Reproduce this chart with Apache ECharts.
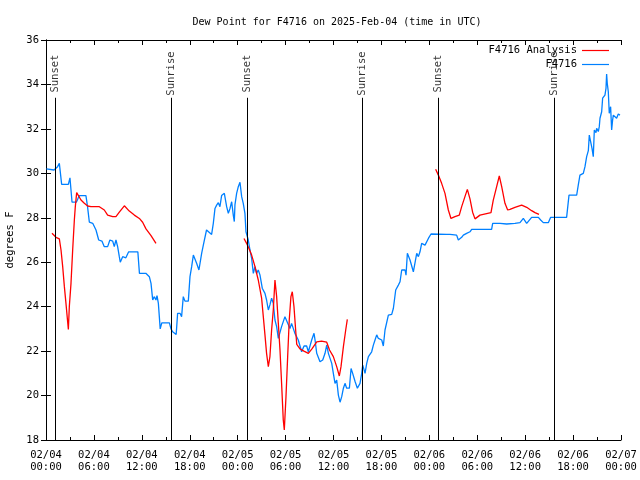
<!DOCTYPE html>
<html><head><meta charset="utf-8">
<script src="https://cdn.jsdelivr.net/npm/echarts@6/dist/echarts.min.js"></script>
<style>html,body{margin:0;padding:0;background:#fff}#c{width:640px;height:480px}</style>
</head><body><div id="c"></div><script>
// hours since 2025-02-04 00:00 UTC
const stationHours = [0.05,0.2,1.0,1.45,1.67,1.96,2.8,3.0,3.26,3.8,4.17,5.0,5.2,5.43,5.85,6.26,6.6,7.0,7.3,7.72,8.0,8.35,8.55,8.76,8.97,9.18,9.3,9.6,10.0,10.35,11.5,11.7,12.5,12.94,13.15,13.36,13.57,13.77,13.9,14.07,14.19,14.3,14.5,15.45,15.65,15.86,16.3,16.48,16.78,16.98,17.19,17.4,17.82,18.03,18.24,18.45,18.65,18.86,19.15,19.49,19.7,20.1,20.32,20.74,20.95,21.16,21.37,21.58,21.78,21.99,22.33,22.62,22.83,23.04,23.25,23.45,23.58,23.66,23.87,24.08,24.29,24.5,24.7,24.91,25.04,25.12,25.33,25.54,25.75,25.96,26.17,26.37,26.58,26.79,27.08,27.42,27.62,27.84,28.04,28.25,28.46,28.67,28.88,29.09,29.5,29.92,30.13,30.55,30.75,31.17,31.59,32.01,32.31,32.64,32.85,33.27,33.56,33.69,33.9,34.31,34.65,34.94,35.15,35.36,35.78,35.98,36.19,36.4,36.61,36.82,37.03,37.24,37.44,37.65,37.99,38.2,38.4,38.7,38.99,39.32,39.53,39.66,39.82,39.95,40.16,40.37,40.57,40.78,40.99,41.2,41.41,41.62,42.04,42.24,42.45,42.66,42.87,43.29,43.5,43.79,44.12,44.33,44.54,44.96,45.08,45.25,45.58,46.0,46.21,46.42,46.63,46.83,47.04,47.46,47.88,48.21,50.17,50.59,51.42,51.63,51.84,52.05,52.26,52.67,53.09,53.3,55.8,55.93,56.85,57.68,58.72,59.35,59.56,59.77,60.19,60.4,60.81,61.65,61.94,62.27,62.9,63.19,65.19,65.49,66.45,66.65,66.86,67.28,67.49,67.7,67.91,68.03,68.2,68.37,68.53,68.66,68.87,68.95,69.16,69.28,69.37,69.58,69.7,69.87,69.99,70.12,70.2,70.28,70.41,70.53,70.7,70.83,70.95,71.04,71.25,71.45,71.66,71.87];
const stationValues = [30.2,30.2,30.15,30.3,30.45,29.5,29.5,29.8,28.7,28.7,29.0,29.0,28.5,27.8,27.75,27.45,27.0,26.95,26.7,26.7,27.0,26.95,26.7,27.0,26.7,26.25,26.0,26.25,26.2,26.47,26.47,25.5,25.5,25.35,25.05,24.3,24.45,24.3,24.5,24.15,23.55,23.0,23.27,23.27,23.0,22.87,22.75,23.7,23.7,23.55,24.45,24.25,24.25,25.35,25.8,26.32,26.25,25.95,25.65,26.4,26.77,27.45,27.4,27.25,27.75,28.42,28.57,28.68,28.5,29.0,29.1,28.5,28.2,28.42,28.72,28.12,27.83,28.58,29.1,29.4,29.6,28.95,28.65,28.2,27.37,27.45,27.0,26.55,26.17,25.5,25.8,25.5,25.65,25.43,24.83,24.6,24.3,23.85,24.08,24.38,24.15,23.4,23.1,22.57,23.1,23.55,23.47,23.02,23.25,22.8,22.5,21.97,22.23,22.23,21.97,22.5,22.8,22.5,21.9,21.52,21.6,21.9,22.27,21.9,21.45,21.0,20.55,20.7,20.02,19.7,19.95,20.33,20.55,20.33,20.33,21.22,21.0,20.63,20.33,20.55,21.0,21.37,21.3,21.0,21.45,21.75,21.82,21.97,22.27,22.5,22.73,22.57,22.5,22.23,22.95,23.02,23.62,23.65,23.93,24.75,24.97,25.12,25.65,25.65,25.42,26.4,26.1,25.57,25.57,26.4,26.25,26.47,26.85,26.77,27.07,27.27,27.25,27.25,27.22,27.0,27.06,27.12,27.22,27.3,27.37,27.48,27.48,27.75,27.75,27.72,27.75,27.78,27.78,27.97,27.75,27.78,28.02,28.02,27.9,27.78,27.78,28.02,28.02,29.02,29.02,29.47,29.92,30.0,30.3,30.75,31.02,31.72,31.77,31.12,30.75,31.95,31.83,32.03,31.88,32.1,32.48,32.77,33.38,33.3,33.52,33.82,34.47,34.05,33.67,32.7,33.0,31.95,32.4,32.62,32.67,32.48,32.67,32.62];

// null marks a gap in the analysis series
const analysisHours = [0.75,1.25,1.67,1.88,2.09,2.3,2.5,2.71,2.8,2.92,3.13,3.34,3.55,3.67,3.84,4.38,4.8,5.22,5.63,6.68,7.3,7.72,8.35,8.76,9.18,9.81,10.43,11.06,11.69,12.1,12.52,13.15,13.77,
  19.0,
  24.79,25.12,25.41,25.75,26.17,26.58,27.0,27.21,27.42,27.62,27.84,28.04,28.25,28.46,28.67,28.88,29.09,29.3,29.5,29.71,29.84,30.05,30.26,30.46,30.67,30.84,31.05,31.26,31.4,31.8,32.3,32.85,33.3,33.9,34.5,35.15,35.5,35.98,36.4,36.73,36.94,37.24,37.53,37.73,
  43.0,
  48.79,49.13,49.54,49.96,50.38,50.71,51.21,51.75,52.05,52.46,52.76,53.09,53.42,53.72,54.34,55.72,56.0,56.43,56.76,57.06,57.47,57.81,58.1,58.72,59.56,60.19,60.81,61.23,61.73];
const analysisValues = [27.3,27.12,27.05,26.55,25.8,24.9,24.15,23.32,22.97,24.0,25.05,26.55,27.9,28.5,29.13,28.8,28.65,28.53,28.5,28.5,28.35,28.12,28.05,28.05,28.25,28.54,28.3,28.12,27.97,27.8,27.5,27.2,26.85,
  null,
  27.07,26.85,26.62,26.32,25.8,25.2,24.38,23.55,22.72,21.9,21.3,21.75,22.95,23.85,25.2,24.45,23.25,22.05,20.55,18.9,18.45,19.95,21.75,23.4,24.45,24.67,24.0,22.95,22.3,22.1,22.0,21.9,22.1,22.42,22.45,22.4,22.05,21.75,21.3,20.88,21.3,22.2,22.95,23.43,
  null,
  30.18,29.92,29.55,29.1,28.35,27.97,28.05,28.12,28.5,28.95,29.28,28.85,28.25,27.95,28.12,28.23,28.78,29.4,29.88,29.4,28.65,28.35,28.38,28.47,28.57,28.47,28.32,28.23,28.15];

const sunHours = [1.15, 15.65, 25.15, 39.6, 49.1, 63.62];
const sunLabels = ['Sunset','Sunrise','Sunset','Sunrise','Sunset','Sunrise'];
const seriesNames = ['F4716 Analysis', 'F4716'];

const FONT = 'DejaVu Sans Mono';
const pad = n => (n < 10 ? '0' : '') + n;
function fmtHour(h) {
  const d = 4 + Math.floor(h / 24);
  const hh = h % 24;
  return '02/' + pad(d) + '\n' + pad(hh) + ':00';
}

const chart = echarts.init(document.getElementById('c'), null, {renderer: 'canvas'});
const axisLine = {show: true, lineStyle: {color: '#000', width: 1}};
const tick = {show: true, inside: true, length: 5, lineStyle: {color: '#000'}};
const minor = {show: true, splitNumber: 2, length: 3, lineStyle: {color: '#000'}};
const legendText = {fontFamily: FONT, fontSize: 10.5, color: '#000'};

chart.setOption({
  animation: false,
  backgroundColor: '#fff',
  textStyle: {fontFamily: FONT},
  title: {
    text: 'Dew Point for F4716 on 2025-Feb-04 (time in UTC)',
    left: 332, top: 12, textAlign: 'center',
    textStyle: {fontFamily: FONT, fontSize: 10, fontWeight: 'normal', color: '#000'}
  },
  legend: [
    {data: [{name: seriesNames[0], icon: 'rect'}], right: 26, top: 40, align: 'right',
     itemWidth: 27, itemHeight: 1.2, textStyle: legendText, selectedMode: false},
    {data: [{name: seriesNames[1], icon: 'rect'}], right: 26, top: 54, align: 'right',
     itemWidth: 27, itemHeight: 1.2, textStyle: legendText, selectedMode: false}
  ],
  grid: {left: 46, right: 19, top: 40, bottom: 40, containLabel: false, outerBoundsMode: 'none'},
  xAxis: [
    {type: 'value', min: 0, max: 72, interval: 6, position: 'bottom',
     axisLine, axisTick: tick, minorTick: minor, splitLine: {show: false},
     axisLabel: {formatter: fmtHour, color: '#000', fontFamily: FONT, fontSize: 10.5, margin: 9, lineHeight: 12}},
    {type: 'value', min: 0, max: 72, interval: 6, position: 'top',
     axisLine, axisTick: tick, minorTick: minor, splitLine: {show: false}, axisLabel: {show: false}}
  ],
  yAxis: [
    {type: 'value', min: 18, max: 36, interval: 2, position: 'left',
     name: 'degrees F', nameLocation: 'middle', nameGap: 30, nameRotate: 90,
     nameTextStyle: {fontFamily: FONT, fontSize: 10.5, color: '#000'},
     axisLine, axisTick: tick, splitLine: {show: false},
     axisLabel: {color: '#000', fontFamily: FONT, fontSize: 10.5, margin: 7}},
    {type: 'value', min: 18, max: 36, interval: 2, position: 'right',
     axisLine, axisTick: tick, splitLine: {show: false}, axisLabel: {show: false}}
  ],
  series: [
    {
      name: 'sun', type: 'scatter', silent: true, symbolSize: 1,
      itemStyle: {color: 'transparent'},
      data: sunHours.map((h, i) => ({value: [h, 34.49], name: sunLabels[i]})),
      label: {show: true, position: 'inside', rotate: 90, formatter: p => p.name,
              color: '#000', fontFamily: FONT, fontSize: 10.5},
      markLine: {
        silent: true, symbol: 'none', label: {show: false},
        lineStyle: {color: '#000', width: 1, type: 'solid'},
        data: sunHours.map(h => [{coord: [h, 33.4]}, {coord: [h, 18]}])
      },
      z: 1
    },
    {
      name: seriesNames[0], type: 'line', showSymbol: false, symbol: 'none',
      connectNulls: false,
      lineStyle: {color: '#ff0000', width: 1.3}, itemStyle: {color: '#ff0000'},
      data: analysisHours.map((h, i) => [h, analysisValues[i] === null ? '-' : analysisValues[i]]),
      z: 3
    },
    {
      name: seriesNames[1], type: 'line', showSymbol: false, symbol: 'none',
      lineStyle: {color: '#0080ff', width: 1.3}, itemStyle: {color: '#0080ff'},
      data: stationHours.map((h, i) => [h, stationValues[i]]),
      z: 2
    }
  ]
});
</script></body></html>
